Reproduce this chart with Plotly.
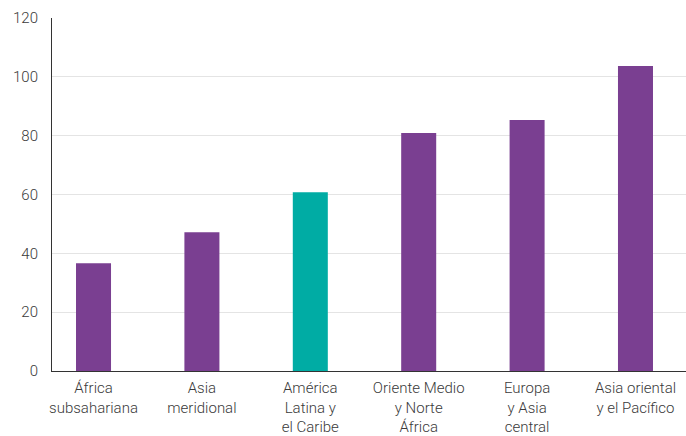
import plotly.graph_objects as go

categories = ["África<br>subsahariana", "Asia<br>meridional", "América<br>Latina y<br>el Caribe",
              "Oriente Medio<br>y Norte<br>África", "Europa<br>y Asia<br>central", "Asia oriental<br>y el Pacífico"]
values = [36.6, 47.2, 60.8, 80.9, 85.3, 103.7]
colors = ["#7a3f91", "#7a3f91", "#00aca4", "#7a3f91", "#7a3f91", "#7a3f91"]
y_ticks = [0, 20, 40, 60, 80, 100, 120]

fig = go.Figure(go.Bar(x=categories, y=values, marker_color=colors, marker_line_width=0, width=0.323))

fig.update_layout(
    width=686, height=436,
    margin=dict(l=52, r=0, t=18, b=65),
    paper_bgcolor="white", plot_bgcolor="white",
    showlegend=False,
    font=dict(family="Roboto", size=15, color="#3a3a3a", weight=300),
)
fig.update_xaxes(
    range=[-0.383, 5.466], showline=True, linecolor="#333333", linewidth=1,
    showgrid=False, ticks="", ticklabelstandoff=3, tickangle=0, automargin=False,
)
fig.update_yaxes(
    range=[0, 120], tickvals=y_ticks, showline=True, linecolor="#333333", linewidth=1,
    showgrid=True, gridcolor="#e4e4e4", gridwidth=1, zeroline=False, ticks="",
    ticklabelstandoff=10, automargin=False,
)
fig.write_html("out.html", config={"displayModeBar": False},
               post_script="document.body.style.margin='0';")
